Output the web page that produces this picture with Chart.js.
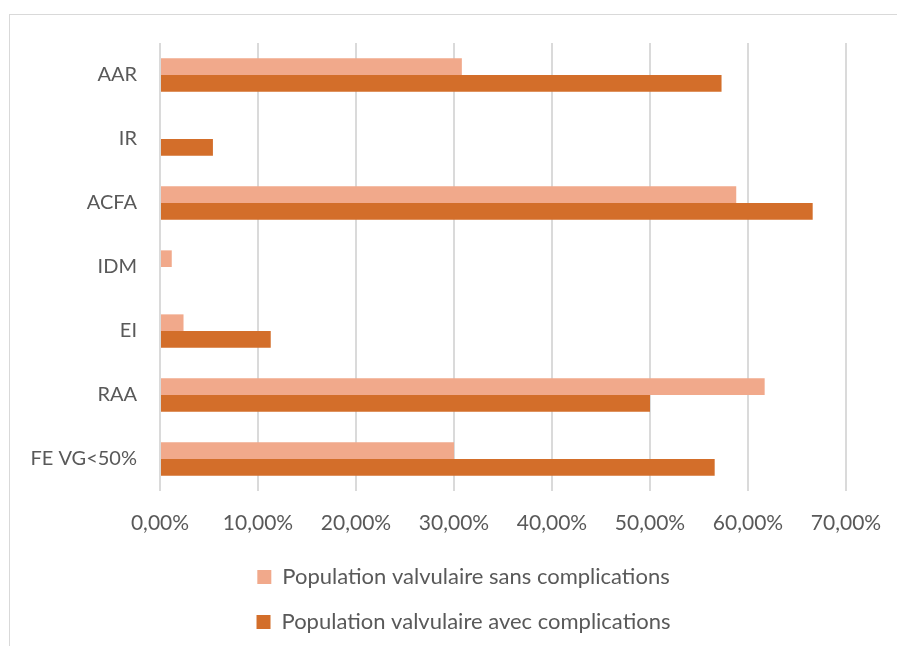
<!DOCTYPE html>
<html>
<head>
<meta charset="utf-8">
<script src="https://cdn.jsdelivr.net/npm/chart.js@4"></script>
<style>
  html, body { margin: 0; padding: 0; background: #ffffff; }
  #wrap { position: relative; width: 897px; height: 646px; overflow: hidden; }
  #frame {
    position: absolute; left: 9px; top: 14px; width: 1000px; height: 1000px;
    border-top: 1px solid #d9d9d9; border-left: 1px solid #d9d9d9;
  }
  canvas { position: absolute; left: 0; top: 0; }
</style>
</head>
<body>
<div id="wrap">
  <div id="frame"></div>
  <canvas id="chart" width="897" height="646"></canvas>
</div>
<script>
// Categories (top to bottom) and the two series, in percent
const categories = ['AAR', 'IR', 'ACFA', 'IDM', 'EI', 'RAA', 'FE VG<50%'];
const sansComplications = [30.8, 0, 58.8, 1.2, 2.4, 61.7, 30.0];
const avecComplications = [57.3, 5.4, 66.6, 0, 11.3, 50.0, 56.6];
const seriesNames = ['Population valvulaire sans complications', 'Population valvulaire avec complications'];
const axisMin = 0;
const axisMax = 70;
const axisStep = 10;

const textColor = '#595959';
const gridColor = '#dadada';
const fontFamily = 'Lato, "Open Sans", sans-serif';

const fmtPct = v => v.toFixed(2).replace('.', ',') + '%';

// Nudges the stacked legend a little to the right of the canvas centre
const legendShift = {
  id: 'legendShift',
  afterLayout(chart, args, opts) {
    const lg = chart.legend;
    if (!lg) return;
    lg.left += opts.offset;
    lg.right += opts.offset;
  }
};

new Chart(document.getElementById('chart'), {
  type: 'bar',
  data: {
    labels: categories,
    datasets: [
      {
        label: seriesNames[0],
        data: sansComplications,
        backgroundColor: '#f1a98b',
        borderWidth: 0
      },
      {
        label: seriesNames[1],
        data: avecComplications,
        backgroundColor: '#d36e2a',
        borderWidth: 0
      }
    ]
  },
  options: {
    indexAxis: 'y',
    responsive: false,
    animation: false,
    devicePixelRatio: 1,
    categoryPercentage: 0.52,
    barPercentage: 1.0,
    layout: { padding: { left: 31, right: 51, top: 43, bottom: 3 } },
    scales: {
      x: {
        min: axisMin,
        max: axisMax,
        ticks: {
          stepSize: axisStep,
          color: textColor,
          font: { family: fontFamily, size: 21, lineHeight: 2.6 },
          padding: 5,
          maxRotation: 0,
          callback: v => fmtPct(v)
        },
        grid: { color: gridColor, lineWidth: 2, drawTicks: false },
        border: { display: false },
        afterFit: s => { s.height = 52; }
      },
      y: {
        ticks: {
          color: textColor,
          font: { family: fontFamily, size: 20 },
          padding: 23
        },
        grid: { display: false, drawTicks: false },
        border: { display: false },
        afterFit: s => { s.width = 129; }
      }
    },
    plugins: {
      legend: {
        position: 'bottom',
        labels: {
          color: textColor,
          font: { family: fontFamily, size: 22 },
          boxWidth: 14,
          boxHeight: 14,
          padding: 23
        }
      },
      legendShift: { offset: 25 },
      tooltip: { enabled: false }
    }
  },
  plugins: [legendShift]
});
</script>
</body>
</html>
